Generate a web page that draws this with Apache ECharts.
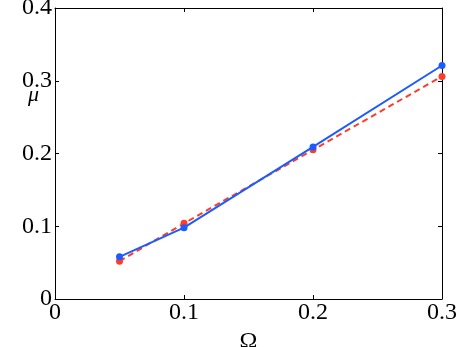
<!DOCTYPE html>
<html>
<head>
<meta charset="utf-8">
<script src="https://cdn.jsdelivr.net/npm/echarts@6/dist/echarts.min.js"></script>
<style>
  html, body { margin: 0; padding: 0; background: #fff; }
  #chart { width: 457px; height: 347px; }
</style>
</head>
<body>
<div id="chart"></div>
<script>
const omega = [0.05, 0.1, 0.2, 0.3];
const muSolid = [0.058, 0.098, 0.209, 0.321];
const muDashed = [0.052, 0.104, 0.205, 0.306];

const font = 'Liberation Serif';

const chart = echarts.init(document.getElementById('chart'));

const tickLabel = { fontFamily: font, fontSize: 24, color: '#000' };

const option = {
  animation: false,
  grid: { left: 55, right: 15, top: 8, bottom: 48, show: false, outerBoundsMode: 'none', containLabel: false },
  xAxis: [
    {
      type: 'value', min: 0, max: 0.3, interval: 0.1,
      name: 'Ω', nameLocation: 'middle', nameGap: 30,
      nameTextStyle: { fontFamily: font, fontSize: 24, color: '#000' },
      axisLine: { onZero: false, lineStyle: { color: '#000', width: 1 } },
      axisTick: { inside: true, length: 4, lineStyle: { color: '#000' } },
      axisLabel: Object.assign({ margin: 2, formatter: v => String(+v.toFixed(1)) }, tickLabel),
      splitLine: { show: false }
    },
    {
      type: 'value', min: 0, max: 0.3, interval: 0.1, position: 'top',
      axisLine: { onZero: false, lineStyle: { color: '#000', width: 1 } },
      axisTick: { inside: true, length: 4, lineStyle: { color: '#000' } },
      axisLabel: { show: false }, splitLine: { show: false }
    }
  ],
  yAxis: [
    {
      type: 'value', min: 0, max: 0.4, interval: 0.1,
      axisLine: { onZero: false, lineStyle: { color: '#000', width: 1 } },
      axisTick: { inside: true, length: 4, lineStyle: { color: '#000' } },
      axisLabel: Object.assign({ margin: 3, formatter: v => String(+v.toFixed(1)) }, tickLabel),
      splitLine: { show: false }
    },
    {
      type: 'value', min: 0, max: 0.4, interval: 0.1, position: 'right',
      axisLine: { onZero: false, lineStyle: { color: '#000', width: 1 } },
      axisTick: { inside: true, length: 4, lineStyle: { color: '#000' } },
      axisLabel: { show: false }, splitLine: { show: false }
    }
  ],
  graphic: [
    {
      type: 'text', left: 28, top: 84,
      style: { text: 'μ', font: 'italic 22px "Liberation Serif"', fill: '#000' }
    }
  ],
  series: [
    {
      type: 'line',
      data: omega.map((x, i) => [x, muDashed[i]]),
      symbol: 'circle', symbolSize: 7,
      lineStyle: { color: '#ff3b2b', width: 2, type: [6, 4] },
      itemStyle: { color: '#ff3b2b' },
      z: 2
    },
    {
      type: 'line',
      data: omega.map((x, i) => [x, muSolid[i]]),
      symbol: 'circle', symbolSize: 7,
      lineStyle: { color: '#1a5cff', width: 2 },
      itemStyle: { color: '#1a5cff' },
      z: 3
    }
  ]
};

chart.setOption(option);
</script>
</body>
</html>
